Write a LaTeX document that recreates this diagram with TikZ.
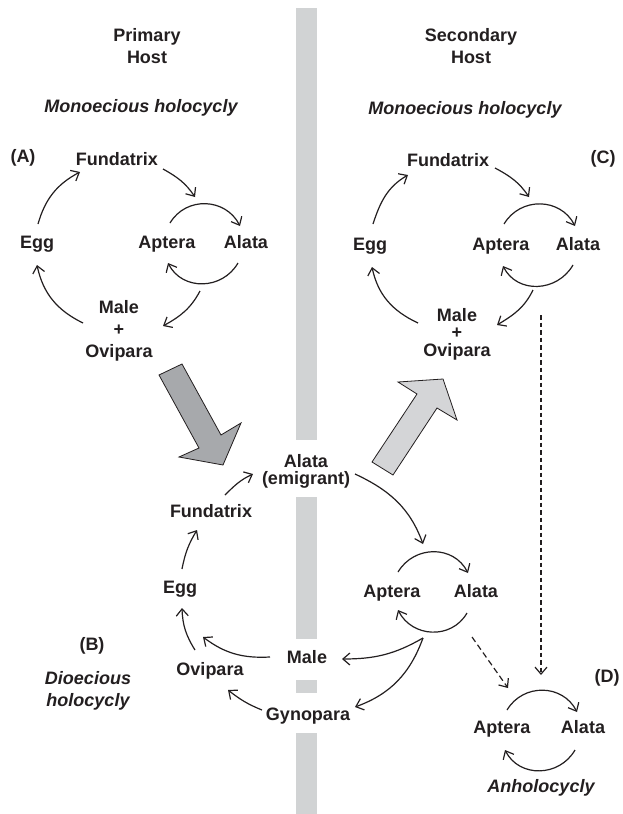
\documentclass[tikz,border=0pt]{standalone}
\usepackage{fontspec}
\setmainfont{Liberation Sans}
\usetikzlibrary{arrows.meta}
\definecolor{inkgray}{HTML}{231F20}
\definecolor{hostbar}{HTML}{D1D3D4}
\definecolor{migdark}{HTML}{A7A9AC}
\definecolor{miglight}{HTML}{D4D5D7}

\begin{document}
\begin{tikzpicture}[
                x=1pt,y=1pt,
                morph/.style={font=\fontsize{18}{21}\selectfont\bfseries,text=inkgray,
                              inner sep=2pt,text height=13pt,text depth=3pt},
                morphStack/.style={font=\fontsize{18}{22}\selectfont\bfseries,text=inkgray,
                                   inner sep=2pt,align=center},
                morphTight/.style={morphStack,font=\fontsize{18}{17.5}\selectfont\bfseries},
                cycleName/.style={font=\fontsize{18}{22}\selectfont\bfseries\itshape,
                                  text=inkgray,inner sep=2pt,align=center},
                lifeArrow/.style={draw=inkgray,line width=1.2pt,
                                  -{Straight Barb[length=7pt,width=12pt]}},
                loopArrow/.style={lifeArrow,looseness=1.15},
                shiftArrow/.style={lifeArrow,dash pattern=on 6pt off 3.5pt},
                holdArrow/.style={lifeArrow,dash pattern=on 4.5pt off 3pt},
                migrant/.style={draw=inkgray,line width=0.8pt,line join=miter}]
                \useasboundingbox (0,0) rectangle (623,-814);

                % host boundary
                \fill[hostbar] (296,-8) rectangle (317,-440);
                \fill[hostbar] (296,-497) rectangle (317,-639);
                \fill[hostbar] (296,-680) rectangle (317,-693);
                \fill[hostbar] (296,-733) rectangle (317,-814);

                % headings
                \node[morphStack] (hostP) at (147,-46.5) {Primary\\Host};
                \node[morphStack] (hostS) at (471,-46.5) {Secondary\\Host};
                \node[cycleName] (monoA) at (141,-108) {Monoecious holocycly};
                \node[cycleName] (monoC) at (465,-110) {Monoecious holocycly};

                % (A) primary host
                \node[morph] (tagA) at (23,-157) {(A)};
                \node[morph] (fundA) at (117,-160) {Fundatrix};
                \node[morph] (eggA) at (37,-243) {Egg};
                \node[morph] (aptA) at (167,-243) {Aptera};
                \node[morph] (alaA) at (246,-243) {Alata};
                \node[morphStack] (maleA) at (119,-331) {Male\\+\\Ovipara};
                \draw[lifeArrow] ([shift={(1,19)}]eggA.center) to[out=74,in=208] ([shift={(-37,-12)}]fundA.center);
                \draw[lifeArrow] ([shift={(46,-9)}]fundA.center) to[out=-29,in=124] ([shift={(28,46)}]aptA.center);
                \draw[loopArrow] ([shift={(3,20)}]aptA.center) to[out=59,in=117] ([shift={(-6,17)}]alaA.center);
                \draw[loopArrow] ([shift={(-8,-20)}]alaA.center) to[out=-120,in=-63] ([shift={(1,-20)}]aptA.center);
                \draw[lifeArrow] ([shift={(-46,-48)}]alaA.center) to[out=-118,in=29] ([shift={(44,5)}]maleA.center);
                \draw[lifeArrow] ([shift={(-36,8)}]maleA.center) to[out=154,in=-78] ([shift={(0,-22)}]eggA.center);

                % (C) secondary host
                \node[morph] (tagC) at (603,-158) {(C)};
                \node[morph] (fundC) at (448,-161) {Fundatrix};
                \node[morph] (eggC) at (370,-245) {Egg};
                \node[morph] (aptC) at (501,-245) {Aptera};
                \node[morph] (alaC) at (578,-245) {Alata};
                \node[morphTight] (maleC) at (457,-334) {Male\\+\\Ovipara};
                \draw[lifeArrow] ([shift={(3,21)}]eggC.center) to[out=72,in=210] ([shift={(-40,-14)}]fundC.center);
                \draw[lifeArrow] ([shift={(47,-7)}]fundC.center) to[out=-28,in=124] ([shift={(28,48)}]aptC.center);
                \draw[loopArrow] ([shift={(3,21)}]aptC.center) to[out=59,in=117] ([shift={(-3,19)}]alaC.center);
                \draw[loopArrow] ([shift={(-5,-20)}]alaC.center) to[out=-120,in=-63] ([shift={(2,-21)}]aptC.center);
                \draw[lifeArrow] ([shift={(-45,-45)}]alaC.center) to[out=-116,in=31] ([shift={(40,9)}]maleC.center);
                \draw[lifeArrow] ([shift={(-39,11)}]maleC.center) to[out=155,in=-78] ([shift={(2,-22)}]eggC.center);

                % migrations between hosts
                \draw[migrant,fill=migdark] (159,-375) -- (182,-364) -- (221,-435) -- (241,-423)
                    -- (223,-465) -- (179,-457) -- (199,-448) -- cycle;
                \draw[migrant,fill=miglight] (372,-462) -- (393,-475) -- (437,-408) -- (457,-420)
                    -- (443,-379) -- (398,-382) -- (417,-394) -- cycle;

                % (B) host alternation
                \node[morph] (tagB) at (92,-645) {(B)};
                \node[cycleName] (dioB) at (88,-691) {Dioecious\\holocycly};
                \node[morphTight,font=\fontsize{18}{17}\selectfont\bfseries] (alaEm) at (306,-471) {Alata\\(emigrant)};
                \node[morph] (fundB) at (211,-512) {Fundatrix};
                \node[morph] (eggB) at (180,-588) {Egg};
                \node[morph] (oviB) at (210,-670) {Ovipara};
                \node[morph] (maleB) at (307,-658) {Male};
                \node[morph] (gynB) at (308,-715) {Gynopara};
                \node[morph] (aptB) at (392,-592) {Aptera};
                \node[morph] (alaB) at (476,-592) {Alata};
                \draw[lifeArrow] ([shift={(14,17)}]fundB.center) to[out=45,in=205] ([shift={(-53,-3)}]alaEm.center);
                \draw[lifeArrow] ([shift={(49,-3)}]alaEm.center) to[out=-25,in=110] ([shift={(31,48)}]aptB.center);
                \draw[loopArrow] ([shift={(6,20)}]aptB.center) to[out=59,in=117] ([shift={(-8,19)}]alaB.center);
                \draw[loopArrow] ([shift={(-9,-21)}]alaB.center) to[out=-120,in=-63] ([shift={(6,-18)}]aptB.center);
                \draw[lifeArrow] ([shift={(31,-46)}]aptB.center) to[out=210,in=0] ([shift={(35,-1)}]maleB.center);
                \draw[lifeArrow] ([shift={(31,-46)}]aptB.center) to[out=250,in=20] ([shift={(47,8)}]gynB.center);
                \draw[lifeArrow] ([shift={(-37,1)}]maleB.center) to[out=183,in=-37] ([shift={(-7,33)}]oviB.center);
                \draw[lifeArrow] ([shift={(-46,5)}]gynB.center) to[out=158,in=-38] ([shift={(18,-20)}]oviB.center);
                \draw[lifeArrow] ([shift={(-15,20)}]oviB.center) to[out=122,in=-88] ([shift={(2,-20)}]eggB.center);
                \draw[lifeArrow] ([shift={(2,19)}]eggB.center) to[out=79,in=239] ([shift={(-14,-18)}]fundB.center);

                % (D) anholocycly
                \node[morph] (tagD) at (607,-677) {(D)};
                \node[morph] (aptD) at (502,-728) {Aptera};
                \node[morph] (alaD) at (583,-728) {Alata};
                \node[cycleName] (anhoD) at (541,-788) {Anholocycly};
                \draw[loopArrow] ([shift={(5,18)}]aptD.center) to[out=59,in=117] ([shift={(-6,16)}]alaD.center);
                \draw[loopArrow] ([shift={(-8,-22)}]alaD.center) to[out=-120,in=-63] ([shift={(3,-22)}]aptD.center);
                \draw[shiftArrow] ([shift={(-4,-45)}]alaB.center) -- ([shift={(6,40)}]aptD.center);
                \draw[holdArrow] ([shift={(-37,-70)}]alaC.center) -- ([shift={(-42,53)}]alaD.center);

            \end{tikzpicture}
\end{document}
